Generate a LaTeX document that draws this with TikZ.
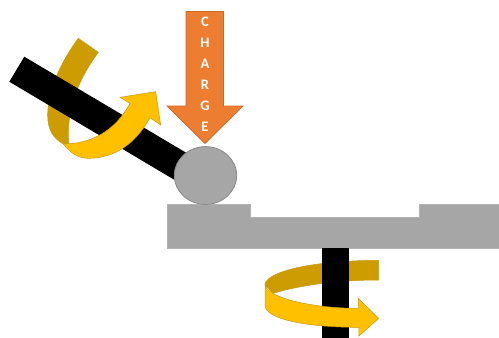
\documentclass[tikz,border=0pt]{standalone}
\usepackage{fontspec}
\setmainfont{Carlito}
\definecolor{platgray}{HTML}{A6A6A6}
\definecolor{balledge}{HTML}{8A8A8A}
\definecolor{gold}{HTML}{FFC000}
\definecolor{golddark}{HTML}{CC9C00}
\definecolor{goldedge}{HTML}{C99A10}
\definecolor{chargeor}{HTML}{ED7D31}
\definecolor{chargeedge}{HTML}{C96A2C}
\tikzset{
  platform/.style={fill=platgray,draw=platgray!85!white,line width=0.6pt},
  ball/.style={fill=platgray,draw=balledge,line width=0.8pt},
  shaft/.style={fill=black},
  ribbonback/.style={fill=golddark,draw=goldedge,line width=0.5pt},
  ribbonfront/.style={fill=gold,draw=goldedge,line width=0.5pt,line join=miter},
  chargearrow/.style={fill=chargeor,draw=chargeedge,line width=0.7pt,line join=miter},
  chargetext/.style={text=white,font=\bfseries\fontsize{14.5}{21}\selectfont,align=center,inner sep=0pt},
  zoomA/.style={x=0.33333pt,y=-0.33333pt,yshift=-20pt},
  zoomB/.style={x=0.33333pt,y=-0.33333pt,xshift=250pt,yshift=-230pt},
}
\begin{document}
\begin{tikzpicture}[x=1pt,y=-1pt]
\useasboundingbox (0,0) rectangle (499,338);
\fill[white] (0,0) rectangle (499,338);
% platform
\draw[platform] (167.5,204) -- (250.7,204) -- (250.7,217.4) -- (419,217.4) -- (419,204) -- (499,204) -- (499,248.2) -- (167.5,248.2) -- cycle;
% upper rotation, rear part
\begin{scope}[zoomA]
\draw[ribbonback] (235,55) -- (295,97)
  .. controls (245,165) and (195,260) .. (207,375)
  -- (190,372)
  .. controls (160,355) and (143,330) .. (143,285)
  .. controls (143,205) and (190,115) .. (235,55) -- cycle;
\end{scope}
% upper shaft
\fill[shaft] (24.3,56.7) -- (190,155) -- (178,182) -- (9.3,81.7) -- cycle;
% upper rotation, front part
\begin{scope}[zoomA]
\draw[ribbonfront] (190,372)
  .. controls (270,372) and (345,335) .. (390,250)
  -- (360,232) -- (467,215) -- (482,315) -- (450,293)
  .. controls (405,375) and (340,415) .. (265,415)
  .. controls (235,415) and (210,398) .. (190,372) -- cycle;
\end{scope}
% ball
\draw[ball] (205.5,175.5) ellipse [x radius=31.2pt,y radius=28.9pt];
% charge arrow
\draw[chargearrow] (186,11.5) -- (223.5,11.5) -- (223.5,106) -- (243,106) -- (205,143.5) -- (167,106) -- (186,106) -- cycle;
\node[chargetext,anchor=north] (charge) at (205,17) {C\\H\\A\\R\\G\\E};
% lower rotation, rear part
\begin{scope}[zoomB]
\draw[ribbonback] (386,91) -- (386,150)
  .. controls (270,150) and (150,165) .. (70,190)
  -- (45,165)
  .. controls (45,125) and (190,91) .. (386,91) -- cycle;
\end{scope}
% lower shaft
\fill[shaft] (321.7,247.5) rectangle (349.3,338);
% lower rotation, front part
\begin{scope}[zoomB]
\draw[ribbonfront] (45,165)
  .. controls (55,205) and (190,235) .. (325,235)
  -- (325,205) -- (386,265) -- (327,318) -- (327,292)
  .. controls (180,292) and (45,270) .. (45,225) -- cycle;
\end{scope}
\end{tikzpicture}
\end{document}
